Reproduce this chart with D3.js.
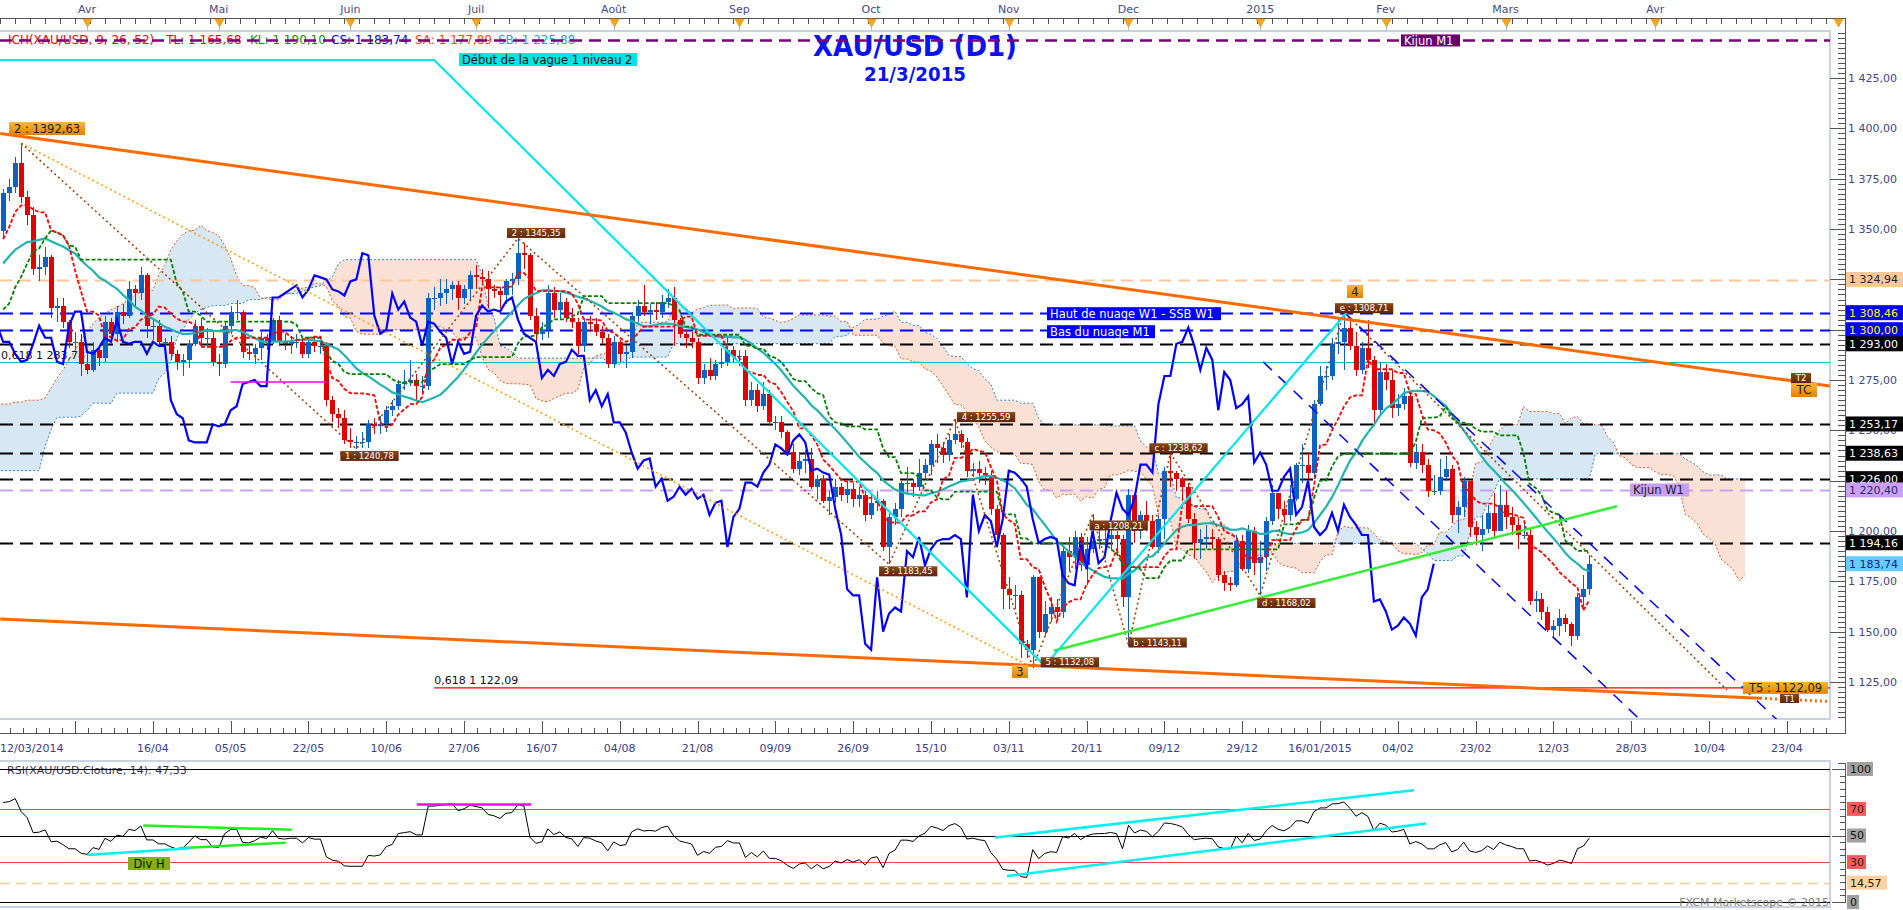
<!DOCTYPE html>
<html><head><meta charset="utf-8"><title>XAU/USD (D1)</title>
<script src="https://cdn.jsdelivr.net/npm/d3@7/dist/d3.min.js"></script>
<style>
html,body{margin:0;padding:0;background:#fff;overflow:hidden}
svg{display:block}
text{font-family:"DejaVu Sans",Verdana,sans-serif}
</style></head><body>
<svg id="chart" width="1903" height="910"></svg>
<script>
// ---------------- DATA ----------------
// warm-up bars (04/02/2014 .. 11/03/2014), only used by the indicators
const priorCloses=[1251,1257,1257,1262,1274,1289,1290,1300,1318,1327,1320,1321,1317,1323,1337,1341,1328,1331,1326,1350,1336,1339,1351,1338,1340,1347];
const priorHighs=[1262,1260,1263,1268,1275,1292,1295,1302,1319,1331,1332,1325,1324,1332,1338,1345,1344,1335,1336,1355,1350,1342,1352,1355,1343,1351];
const priorLows=[1248,1250,1251,1256,1260,1273,1285,1288,1298,1318,1312,1308,1310,1316,1319,1328,1327,1321,1320,1327,1333,1333,1333,1331,1333,1338];
// daily bars 12/03/2014 .. 20/03/2015 (open = previous close)
const firstOpen=1349;
const closes=[
1368,1371,1383,1366,1357,1330,1331,1336,1311,1312,
1304,1294,1294,1283,1280,1290,1286,1304,1298,1309,
1307,1320,1318,1327,1302,1302,1294,1294,1288,1284,
1285,1293,1302,1296,1296,1284,1283,1302,1309,1309,
1289,1288,1291,1296,1294,1305,1294,1293,1294,1294,
1288,1294,1292,1292,1265,1258,1256,1245,1244,1244,
1244,1253,1252,1253,1260,1262,1273,1274,1275,1272,
1272,1316,1316,1318,1320,1322,1316,1320,1327,1326,
1325,1320,1319,1317,1324,1325,1338,1337,1307,1298,
1300,1318,1310,1314,1306,1304,1292,1304,1303,1299,
1296,1283,1294,1288,1289,1307,1312,1309,1310,1309,
1314,1316,1305,1298,1296,1294,1276,1280,1277,1283,
1284,1290,1287,1287,1265,1270,1262,1268,1254,1254,
1249,1239,1231,1235,1236,1222,1226,1215,1217,1222,
1218,1221,1216,1218,1208,1214,1215,1192,1207,1211,
1224,1224,1222,1229,1233,1243,1241,1238,1245,1248,
1244,1230,1231,1229,1228,1211,1198,1171,1168,1168,
1144,1141,1177,1150,1159,1162,1160,1190,1187,1197,
1183,1191,1195,1196,1196,1198,1196,1167,1218,1200,
1208,1205,1192,1206,1230,1229,1226,1222,1206,1194,
1196,1197,1196,1178,1174,1173,1195,1181,1200,1184,
1187,1205,1219,1211,1208,1216,1233,1233,1229,1263,
1277,1277,1293,1294,1301,1292,1280,1291,1285,1260,
1279,1275,1261,1263,1267,1234,1239,1233,1220,1220,
1227,1231,1208,1212,1225,1202,1198,1201,1209,1200,
1213,1207,1203,1198,1198,1165,1166,1160,1151,1153,
1157,1154,1148,1167,1171,1183.74];
const highs=[
1370,1375,1386,1392.63,1369,1361,1337,1341,1337,1316,
1316,1305,1299,1298,1290,1294,1291,1307,1306,1312,
1313,1324,1322,1331,1328,1306,1305,1296,1297,1290,
1288,1295,1305,1306,1301,1300,1288,1304,1312,1315,
1310,1293,1293,1300,1298,1306,1307,1298,1297,1298,
1296,1296,1296,1295,1294,1267,1261,1260,1251,1247,
1249,1255,1256,1257,1262,1265,1275,1280,1285,1278,
1277,1318,1321,1325,1325,1324,1324,1322,1329,1332,
1330,1329,1322,1321,1325,1328,1345.35,1343,1338,1311,
1304,1322,1321,1318,1316,1311,1306,1306,1307,1306,
1302,1298,1297,1295,1292,1309,1315,1322,1313,1314,
1317,1320,1321,1306,1300,1299,1296,1283,1286,1285,
1291,1296,1292,1290,1290,1274,1273,1274,1270,1257,
1257,1250,1243,1239,1240,1241,1228,1228,1220,1226,
1224,1225,1224,1222,1220,1218,1220,1216,1209,1214,
1225,1232,1226,1236,1236,1245,1248,1244,1248,1255.59,
1250,1246,1234,1235,1232,1230,1213,1199,1177,1173,
1170,1146,1178,1177,1165,1167,1166,1192,1197,1200,
1199,1197,1208.21,1202,1202,1203,1200,1198,1221,1219,
1210,1215,1208,1208,1232,1238.62,1230,1227,1224,1209,
1201,1203,1201,1197,1180,1177,1198,1198,1203,1202,
1195,1207,1223,1219,1215,1223,1234,1243,1239,1265,
1282,1282,1296,1306,1308.71,1305,1299,1294,1305,1287,
1284,1283,1280,1268,1271,1269,1243,1243,1236,1228,
1236,1237.15,1233,1215,1227,1225,1205,1208,1213,1219,
1223,1220,1212,1207,1205,1201,1170,1169,1162,1156,
1161,1159,1155,1169,1178,1188.31];
const lows=[
1345,1364,1368,1363,1352,1327,1324,1327,1306,1304,
1301,1291,1290,1277,1278,1279,1282,1284,1294,1294,
1303,1306,1312,1315,1296,1295,1292,1291,1285,1280,
1277,1281,1292,1292,1291,1282,1277,1281,1298,1305,
1286,1285,1283,1285,1290,1293,1292,1290,1288,1291,
1286,1286,1289,1288,1262,1254,1251,1243,1241,1240.78,
1241,1241,1248,1248,1249,1257,1260,1270,1272,1265,
1268,1270,1310,1312,1313,1315,1310,1313,1315,1320,
1322,1311,1316,1311,1313,1317,1322,1330,1305,1293,
1295,1296,1306,1305,1304,1301,1288,1289,1299,1297,
1293,1281,1281,1284,1281,1286,1304,1307,1303,1305,
1306,1311,1292,1296,1291,1291,1273,1273,1275,1275,
1281,1282,1284,1282,1262,1262,1259,1260,1252,1250,
1246,1238,1229,1228,1229,1221,1216,1214,1208,1214,
1215,1214,1212,1212,1205,1206,1210,1190,1183.45,1203,
1207,1219,1217,1220,1226,1228,1234,1234,1235,1243,
1241,1227,1227,1224,1223,1208,1195,1161,1161,1161,
1137,1137,1132.08,1147,1148,1155,1156,1157,1180,1181,
1180,1173,1189,1191,1192,1191,1190,1162,1143.11,1194,
1196,1200,1191,1189,1196,1222,1220,1215,1204,1186,
1186,1191,1191,1175,1170,1170,1172,1180,1179,1178,
1168.02,1180,1203,1206,1204,1205,1215,1224,1226,1226,
1262,1270,1275,1288,1280,1290,1277,1278,1281,1252,
1258,1270,1256,1257,1260,1232,1231,1229,1217,1218,
1218,1225,1204,1199,1207,1197,1193,1190,1199,1197,
1200,1201,1198,1191,1196,1163,1160,1156,1150,1147,
1148,1150,1143.05,1146,1162,1168];
// Ichimoku cloud spans read from the chart where the history is not on screen (bar -1 ..)
const earlyA=[1263,1263,1263,1264,1264,1265,1265,1265,1266,1271,1276,1280,1285,1290,1295,1299,1303,1306,1308,1310,1311,1313,1315,1317,1319,1321];
const earlyB=[1230,1230,1230,1230,1230,1230,1230,1230,1242,1250.5,1256.5,1256.5,1256.5,1256.5,1257,1260,1263.5,1263.5,1263.5,1263.5,1268.5,1268.5,1268.5,1268.5,1268.5,1268.5,1268.5,1276,1278.5,1284,1296,1300,1305,1308,1310,1311,1312,1312,1312,1313,1313,1313,1315,1315,1315,1316,1316,1316,1318,1318,1318,1319];
// axis labels
const xTickLabels=["12/03/2014","16/04","05/05","22/05","10/06","27/06","16/07","04/08","21/08","09/09","26/09","15/10","03/11","20/11","09/12","29/12","16/01/2015","04/02","23/02","12/03","28/03","10/04","23/04"];
const xTickIdx=[0,25,38,51,64,77,90,103,116,129,142,155,168,181,194,207,220,233,246,259,272,285,298];
const monthLabels=["Avr","Mai","Juin","Juil","Août","Sep","Oct","Nov","Dec","2015","Fev","Mars","Avr"];
const monthIdx=[14,36,58,79,102,123,145,168,188,210,231,251,276];
const priceTicks=[1125,1150,1175,1200,1225,1250,1275,1300,1325,1350,1375,1400,1425];
// horizontal levels
const levelNames=["kijunM1","peach","ssbW1","basM1","l1293","fib618a","l1253","l1238","l1226","kijunW1","l1194"];
const levelValues=[1443.7,1324.94,1308.46,1300.00,1293.00,1283.78,1253.17,1238.63,1226.00,1220.40,1194.16];
const tagValues=[1324.94,1308.46,1300.00,1293.00,1253.17,1238.63,1226.00,1220.40,1194.16,1183.74];
const tagKinds=["peach","blue","blue","black","black","black","black","lilac","black","cs"];
// wave labels (Elliott)
const waveText=["1 : 1240,78","2 : 1345,35","3 : 1183,45","4 : 1255,59","5 : 1132,08","a : 1208,21","b : 1143,11","c : 1238,62","d : 1168,02","e : 1308,71"];
const waveIdx=[59,86,148,159,172,182,188,195,210,224];
const wavePrice=[1240.78,1345.35,1183.45,1255.59,1132.08,1208.21,1143.11,1238.62,1168.02,1308.71];
// drawings (bar index, price)
const trendUpper=[[-0.5,1397.5],[305.2,1272]];
const trendLower=[[-0.5,1156.3],[293.5,1116.9]];
const trendLowerExt=[[293.5,1116.9],[305.2,1115.3]];
const fibLine=[[72,1122.09],[305.2,1122.09]];
const orangeDotted=[[3,1392.63],[172,1132.08]];
const waveBrown=[[3,1392.63],[59,1240.78],[86,1345.35],[148,1183.45],[159,1255.59],[172,1132.08],[182,1208.21],[188,1143.11],[195,1238.62],[210,1168.02],[224,1308.71],[288,1121]];
const cyanPath=[[-1,1434],[72,1434],[174,1133],[224.5,1308.7]];
const greenLine=[[175.5,1140.5],[269.6,1212.3]];
const channelLow=[[210.5,1284],[273.2,1107]];
const channelHigh=[[224,1308.7],[297.5,1103]];
const magentaMain=[[38,1274],[54,1274]];
// RSI drawings (bar index, rsi)
const rsiLevels=[100,70,50,30,14.57,0];
const rsiMagenta=[[69.1,73.4],[88.2,73.4]];
const rsiGreen1=[[23.4,57.5],[48.2,54.4]];
const rsiGreen2=[[29.3,40.4],[47.2,44.6]];
const rsiCyanSmall=[[14,35.3],[31.2,40.4]];
const rsiCyanHigh=[[165.7,48.5],[235.7,84]];
const rsiCyanLow=[[167.7,19.5],[237.7,59]];

// ---------------- SCALES ----------------
const svg=d3.select("#chart");
const PT=31,PB=719,PR=1830;
const x=d3.scaleLinear().domain([-0.535,305.2]).range([0,1830]);
const y=d3.scaleLinear().domain([1106.6,1447.9]).range([719,32]);
const ry=d3.scaleLinear().domain([0,100]).range([902,769]);
const fr=d3.formatLocale({decimal:",",thousands:"\u00a0",grouping:[3],currency:["",""]}).format(",.2f");

// ---------------- INDICATORS ----------------
const P=priorCloses.length;
const allC=priorCloses.concat(closes),allH=priorHighs.concat(highs),allL=priorLows.concat(lows);
function mid(i,n){const k=i+P,s=Math.max(0,k-n+1);let h=-Infinity,l=Infinity;for(let j=s;j<=k;j++){if(allH[j]>h)h=allH[j];if(allL[j]<l)l=allL[j];}return (h+l)/2;}
const idx=d3.range(closes.length);
const tenkan=idx.map(i=>mid(i,9)),kijun=idx.map(i=>mid(i,26));
const sma=idx.map(i=>d3.mean(allC.slice(i+P-19,i+P+1)));
function rsiCalc(c,n){const out=c.map(()=>null);let g=0,l=0;for(let k=1;k<=n;k++){const d=c[k]-c[k-1];if(d>0)g+=d;else l-=d;}g/=n;l/=n;out[n]=100-100/(1+g/l);
 for(let k=n+1;k<c.length;k++){const d=c[k]-c[k-1];g=(g*(n-1)+Math.max(d,0))/n;l=(l*(n-1)+Math.max(-d,0))/n;out[k]=l===0?100:100-100/(1+g/l);}return out;}
const rsiAll=rsiCalc(allC,14);
const rsiVals=idx.map(i=>({i,v:rsiAll[i+P]}));
const cloud=[];
for(let t=-1;t<=closes.length-1+26;t++){const b=t-26;
 const A=t<25?earlyA[t+1]:(mid(b,9)+mid(b,26))/2;
 const B=t<51?earlyB[t+1]:mid(b,52);
 cloud.push({t,A,B});}
const candles=closes.map((c,i)=>({i,o:i?closes[i-1]:firstOpen,h:highs[i],l:lows[i],c}));

// ---------------- DEFS ----------------
const defs=svg.append("defs");
defs.append("clipPath").attr("id","cp").append("rect").attr("x",0).attr("y",PT).attr("width",PR).attr("height",PB-PT);
defs.append("clipPath").attr("id","cr").append("rect").attr("x",0).attr("y",762).attr("width",PR).attr("height",144);
function grad(id,a,b){const g=defs.append("linearGradient").attr("id",id).attr("x1",0).attr("y1",0).attr("x2",0).attr("y2",1);
 g.append("stop").attr("offset","0").attr("stop-color",a);g.append("stop").attr("offset","1").attr("stop-color",b);}
grad("og","#ffb63a","#dc8400");grad("bg","#8c4616","#5e2506");

// ---------------- FRAMES & AXES ----------------
svg.append("rect").attr("x",-2).attr("y",PT).attr("width",PR+2).attr("height",PB-PT).attr("fill","none").attr("stroke","#c9d3df").attr("stroke-width",2);
svg.append("rect").attr("x",-2).attr("y",761).attr("width",PR+2).attr("height",146).attr("fill","none").attr("stroke","#c9d3df").attr("stroke-width",2);

const ax=svg.append("g").attr("stroke","#555").attr("shape-rendering","crispEdges");
// top axis
ax.append("line").attr("x1",0).attr("x2",1846).attr("y1",18.5).attr("y2",18.5);
ax.selectAll("line.tt").data(d3.range(-0.5,305,2.5)).join("line").attr("class","tt")
 .attr("x1",d=>Math.round(x(d))+0.5).attr("x2",d=>Math.round(x(d))+0.5).attr("y1",18).attr("y2",24);
ax.selectAll("line.mt").data(monthIdx).join("line").attr("class","mt").attr("stroke","#bbb")
 .attr("x1",d=>Math.round(x(d))+0.5).attr("x2",d=>Math.round(x(d))+0.5).attr("y1",24).attr("y2",31);
svg.selectAll("path.tri").data(monthIdx.concat([306.6])).join("path").attr("class","tri")
 .attr("d",d=>{const c=Math.round(x(d))+0.5;return `M${c-4.5},19 L${c+4.5},19 L${c},27 Z`;})
 .attr("fill","#f9a51e").attr("stroke","#e08a00").attr("stroke-width",0.6);
svg.selectAll("text.mon").data(monthLabels).join("text").attr("class","mon")
 .attr("x",(d,k)=>x(monthIdx[k])).attr("y",13).attr("text-anchor","middle").attr("font-size",11).attr("fill","#4a4a86").text(d=>d);
// right axis (price)
ax.append("line").attr("x1",1845.5).attr("x2",1845.5).attr("y1",18).attr("y2",734);
ax.selectAll("line.pt").data(d3.range(1107.5,1447.6,2.5)).join("line").attr("class","pt")
 .attr("x1",d=>(Math.abs(d/25-Math.round(d/25))<1e-6)?1830:1838).attr("x2",1845)
 .attr("y1",d=>Math.round(y(d))+0.5).attr("y2",d=>Math.round(y(d))+0.5);
svg.selectAll("text.pl").data(priceTicks).join("text").attr("class","pl")
 .attr("x",1848).attr("y",d=>y(d)+4).attr("font-size",11).attr("fill","#44448a").text(d=>fr(d));
// bottom axis
ax.append("line").attr("x1",0).attr("x2",1846).attr("y1",733.5).attr("y2",733.5);
ax.selectAll("line.bM").data(d3.range(-1,306,13)).join("line").attr("class","bM")
 .attr("x1",d=>Math.round(x(d))+0.5).attr("x2",d=>Math.round(x(d))+0.5).attr("y1",721).attr("y2",733);
ax.selectAll("line.bm").data(d3.range(-1,306,13/6)).join("line").attr("class","bm")
 .attr("x1",d=>Math.round(x(d))+0.5).attr("x2",d=>Math.round(x(d))+0.5).attr("y1",728).attr("y2",733);
svg.selectAll("text.xl").data(xTickLabels).join("text").attr("class","xl")
 .attr("x",(d,k)=>k===0?0:x(xTickIdx[k])).attr("y",752).attr("text-anchor",(d,k)=>k===0?"start":"middle")
 .attr("font-size",11).attr("fill","#3c3c88").text(d=>d);
// RSI axis
ax.append("line").attr("x1",1845.5).attr("x2",1845.5).attr("y1",763).attr("y2",903);
ax.append("line").attr("x1",1838).attr("x2",1845).attr("y1",763.5).attr("y2",763.5);
ax.selectAll("line.rt").data(d3.range(0,101,5)).join("line").attr("class","rt")
 .attr("x1",d=>d%50===0?1832:1840).attr("x2",1845).attr("y1",d=>Math.round(ry(d))+0.5).attr("y2",d=>Math.round(ry(d))+0.5);

// ---------------- LEGEND / TITLE ----------------
const leg=svg.append("g").attr("font-size",12).attr("font-family","'Liberation Sans',Arial,sans-serif");
const legParts=[["ICH(XAU/USD, 9, 26, 52) - TL: 1 165,68",8,"#ff0000"],["KL: 1 190,10",250,"#228800"],["CS: 1 183,74",331,"#0000ff"],["SA: 1 177,89",415,"#ff4a00"],["SB: 1 225,88",498,"#3399dd"]];
legParts.forEach(p=>leg.append("text").attr("x",p[1]).attr("y",44).attr("fill",p[2]).text(p[0]));
svg.append("text").attr("x",915).attr("y",56).attr("text-anchor","middle").attr("font-family","'Liberation Sans Narrow','Liberation Sans',Arial,sans-serif")
 .attr("font-weight","bold").attr("font-size",29).attr("fill","#0a14f0").attr("textLength",204).attr("lengthAdjust","spacingAndGlyphs").text("XAU/USD (D1)");
svg.append("text").attr("x",915).attr("y",81).attr("text-anchor","middle").attr("font-family","'Liberation Sans Narrow','Liberation Sans',Arial,sans-serif")
 .attr("font-weight","bold").attr("font-size",19).attr("fill","#0a14f0").attr("textLength",102).attr("lengthAdjust","spacingAndGlyphs").text("21/3/2015");

// ---------------- MAIN PLOT ----------------
const g=svg.append("g").attr("clip-path","url(#cp)");
g.append("path").datum(cloud).attr("d",d3.area().x(d=>x(d.t)).y0(d=>y(d.B)).y1(d=>y(Math.max(d.A,d.B)))).attr("fill","#d7e7f3");
g.append("path").datum(cloud).attr("d",d3.area().x(d=>x(d.t)).y0(d=>y(d.A)).y1(d=>y(Math.max(d.A,d.B)))).attr("fill","#fae0d5");
g.append("path").datum(cloud).attr("d",d3.line().x(d=>x(d.t)).y(d=>y(d.A))).attr("fill","none").attr("stroke","#e0581a").attr("stroke-width",1).attr("stroke-dasharray","2,2");
g.append("path").datum(cloud).attr("d",d3.line().x(d=>x(d.t)).y(d=>y(d.B))).attr("fill","none").attr("stroke","#2c86c4").attr("stroke-width",1).attr("stroke-dasharray","2,2");

// level lines
const lvStyle={kijunM1:["#7a007a",2.4,"12,7",0],peach:["#fcc698",2.2,"12,7",0],ssbW1:["#0000ff",2.2,"13,7",0],basM1:["#0000ff",2.2,"13,7",0],
 l1293:["#000",2.2,"13,7",0],fib618a:["#00c4c4",1.2,null,0],l1253:["#000",2.2,"13,7",0],l1238:["#000",2.2,"13,7",0],l1226:["#000",2.2,"13,7",0],
 kijunW1:["#c9a0f2",2.2,"13,7",0],l1194:["#000",2.2,"13,7",0]};
levelNames.forEach((n,k)=>{const s=lvStyle[n];const yy=Math.round(y(levelValues[k]))+0.5;
 g.append("line").attr("x1",0).attr("x2",PR).attr("y1",yy).attr("y2",yy).attr("stroke",s[0]).attr("stroke-width",s[1]).attr("stroke-dasharray",s[2]);});
g.append("text").attr("x",1).attr("y",y(1283.78)-3).attr("font-size",11).attr("fill","#111").text("0,618 1 283,78");
const ln=d3.line().x(d=>x(d[0])).y(d=>y(d[1]));
g.append("path").attr("d",ln(fibLine)).attr("stroke","#ff0000").attr("stroke-width",1.2).attr("fill","none");
g.append("text").attr("x",x(fibLine[0][0])).attr("y",y(1122.09)-4).attr("font-size",11).attr("fill","#111").text("0,618 1 122,09");

// candles
const cg=g.append("g").attr("shape-rendering","crispEdges");
const colUp="#0b62c6",colDn="#e00000";
cg.selectAll("line").data(candles).join("line")
 .attr("x1",d=>Math.round(x(d.i))+0.5).attr("x2",d=>Math.round(x(d.i))+0.5).attr("y1",d=>y(d.h)).attr("y2",d=>y(d.l))
 .attr("stroke",d=>d.c>=d.o?colUp:colDn).attr("stroke-width",1);
cg.selectAll("rect").data(candles).join("rect")
 .attr("x",d=>Math.round(x(d.i))-2).attr("width",5)
 .attr("y",d=>y(Math.max(d.o,d.c))).attr("height",d=>Math.max(1,Math.abs(y(d.o)-y(d.c))))
 .attr("fill",d=>d.c>=d.o?colUp:colDn);

// indicators
g.append("path").datum(idx).attr("d",d3.line().x(i=>x(i)).y(i=>y(sma[i]))).attr("fill","none").attr("stroke","#20b4b0").attr("stroke-width",2.2);
g.append("path").datum(idx).attr("d",d3.line().x(i=>x(i)).y(i=>y(kijun[i]))).attr("fill","none").attr("stroke","#008000").attr("stroke-width",1.8).attr("stroke-dasharray","4,2");
g.append("path").datum(idx).attr("d",d3.line().x(i=>x(i)).y(i=>y(tenkan[i]))).attr("fill","none").attr("stroke","#ff0000").attr("stroke-width",1.8).attr("stroke-dasharray","4,2");
g.append("path").datum(idx).attr("d",d3.line().x(i=>x(i-26)).y(i=>y(closes[i]))).attr("fill","none").attr("stroke","#0000ff").attr("stroke-width",2.2);

// drawings
function draw(pts,col,w,dash){g.append("path").attr("d",ln(pts)).attr("fill","none").attr("stroke",col).attr("stroke-width",w).attr("stroke-dasharray",dash||null);}
draw(orangeDotted,"#ffa010",1.6,"2,3");
draw(waveBrown,"#a3460c",1.6,"2,3");
draw(channelLow,"#0000ff",1.5,"12,9");
draw(channelHigh,"#0000ff",1.5,"12,9");
draw(greenLine,"#33ee33",2.5);
draw(cyanPath,"#00e6f0",2.2);
draw(magentaMain,"#ff00ff",1.5);
draw(trendUpper,"#ff6a00",3);
draw(trendLower,"#ff6a00",3);
draw(trendLowerExt,"#ff6a00",3,"2,3");

// ---------------- LABEL BOXES ----------------
function box(par,x0,y0,w,h,fill,txt,tc,fs,anchor){
 par.append("rect").attr("x",x0).attr("y",y0).attr("width",w).attr("height",h).attr("fill",fill);
 par.append("text").attr("x",anchor==="middle"?x0+w/2:x0+3).attr("y",y0+h/2).attr("dy","0.36em")
  .attr("text-anchor",anchor||"start").attr("font-size",fs).attr("fill",tc).text(txt);}
const lb=svg.append("g");
box(lb,459,53,178,13,"#00e4e4","Début de la vague 1 niveau 2","#111",11.5);
box(lb,1047,y(1308.46)-5.5,174,13,"#0000ff","Haut de nuage W1 - SSB W1","#fff",11.5);
box(lb,1047,y(1300)-4.5,108,13,"#0000ff","Bas du nuage M1","#fff",11.5);
box(lb,1630,y(1220.4)-6.5,59,13,"#c89ef0","Kijun W1","#222",11.5);
box(lb,1401,y(1443.7)-6,59,12,"#6b006b","Kijun M1","#fff",11.5);
box(lb,9,122,76,13,"url(#og)","2 : 1392,63","#222",11.5,"middle");
box(lb,1012,665,16,13,"url(#og)","3","#222",11.5,"middle");
box(lb,1347,285,16,13,"url(#og)","4","#222",11.5,"middle");
box(lb,1791,383,26,14,"url(#og)","TC","#222",12,"middle");
box(lb,1743,y(1122.09)-6,85,12,"url(#og)","T5 : 1122,09","#222",11.5,"middle");
box(lb,1791,373,20,10,"url(#bg)","T2","#fff",8.5,"middle");
box(lb,1780,694,19,9,"url(#bg)","T1","#fff",8.5,"middle");
const waveOff=[[-16,2],[-11,-10.5],[-10,2],[2,-7],[8,-10.5],[-3,6],[0,-8],[-21,-10],[-3,2.6],[-9,-9]];
waveText.forEach((t,k)=>box(lb,x(waveIdx[k])+waveOff[k][0],y(wavePrice[k])+waveOff[k][1],t.length*5.3,10,"url(#bg)",t,"#fff",8.5,"middle"));

// right-axis tags
const tagStyle={peach:["#fcc898","#222"],blue:["#0000ff","#ffff00"],black:["#000","#fff"],lilac:["#c9a0f2","#2a2a6a"],cs:["#66ccff","#12208a"]};
tagValues.forEach((v,k)=>{const s=tagStyle[tagKinds[k]];box(lb,1846,y(v)-7.5,57,15,s[0],fr(v),s[1],11);});

// ---------------- RSI PANEL ----------------
const rg=svg.append("g").attr("clip-path","url(#cr)");
const rsiCol={100:"#000",70:"#ff4444",50:"#000",30:"#ff4444",14.57:"#ffc890",0:"#000"};
rsiLevels.forEach(v=>rg.append("line").attr("x1",0).attr("x2",PR).attr("y1",Math.round(ry(v))+0.5).attr("y2",Math.round(ry(v))+0.5)
 .attr("stroke",rsiCol[v]).attr("stroke-width",v===14.57?1.5:1).attr("stroke-dasharray",v===14.57?"10,6":null));
rg.append("path").datum(rsiVals.filter(d=>d.v!=null)).attr("d",d3.line().x(d=>x(d.i)).y(d=>ry(d.v))).attr("fill","none").attr("stroke","#000").attr("stroke-width",1);
const rl=d3.line().x(d=>x(d[0])).y(d=>ry(d[1]));
function rdraw(pts,col,w){rg.append("path").attr("d",rl(pts)).attr("fill","none").attr("stroke",col).attr("stroke-width",w);}
rdraw(rsiMagenta,"#ff00ff",2.5);rdraw(rsiGreen1,"#22ee22",2.5);rdraw(rsiGreen2,"#22ee22",2.5);rdraw(rsiCyanSmall,"#00f0f0",2.5);
rdraw(rsiCyanHigh,"#00f0f0",2.5);rdraw(rsiCyanLow,"#00f0f0",2.5);
box(rg,128,857,42,13,"#84b016","Div H","#111",11.5,"middle");
svg.append("text").attr("x",7).attr("y",774).attr("font-size",11).attr("fill","#333355").text("RSI(XAU/USD.Cloture, 14): 47,33");
svg.append("line").attr("x1",0).attr("x2",PR).attr("y1",769.5).attr("y2",769.5).attr("stroke","#000");
svg.append("text").attr("x",1829).attr("y",906).attr("text-anchor","end").attr("font-size",11).attr("fill","#808080").text("FXCM Marketscope \u00a9 2015");
const rtag={100:["#a0a0a0","#111","100"],70:["#ff5a5a","#222","70"],50:["#a0a0a0","#111","50"],30:["#ff5a5a","#222","30"],14.57:["#ffd0a0","#222","14,57"],0:["#a0a0a0","#111","0"]};
rsiLevels.forEach(v=>{const s=rtag[v];box(svg,1847,ry(v)-7,s[2].length*7+5,14,s[0],s[2],s[1],11);});
</script>
</body></html>
